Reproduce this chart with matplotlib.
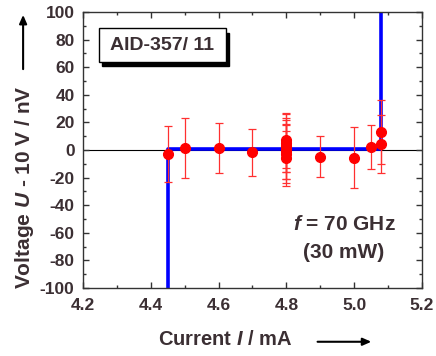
import matplotlib
matplotlib.use('Agg')
import matplotlib.pyplot as plt
from matplotlib.patches import Rectangle, FancyArrowPatch
from matplotlib.ticker import MultipleLocator

plt.rcParams['font.family'] = 'Liberation Sans'
plt.rcParams['font.weight'] = 'bold'
plt.rcParams['axes.unicode_minus'] = False
plt.rcParams['mathtext.fontset'] = 'custom'
plt.rcParams['mathtext.it'] = 'Liberation Sans:bold:italic'
plt.rcParams['mathtext.rm'] = 'Liberation Sans:bold'

txt_col = '#3b2f33'

# measured points
current = [4.45, 4.5, 4.6, 4.7, 4.8, 4.8, 4.8, 4.8, 4.8, 4.8, 4.8, 4.9, 5.0, 5.05, 5.08, 5.08]
voltage = [-3, 1.7, 1.7, -1.5, 7, 5, 3, 1, -1, -3, -6, -4.8, -5.6, 2.4, 4.1, 13]
err = [20.5, 21.7, 18, 17, 20, 21, 19, 22, 20, 21, 20, 14.7, 22, 16, 21, 23]

# fitted curve
fit_i = [4.45, 4.45, 5.08, 5.08]
fit_u = [-100, 0.5, 0.5, 100]

fig = plt.figure(figsize=(4.36, 3.56), dpi=100)
ax = fig.add_axes([0.190, 0.191, 0.778, 0.775])

ax.axhline(0, color='black', lw=0.8, zorder=1)
ax.plot(fit_i, fit_u, color='#0000ff', lw=2.6, zorder=2)
ax.errorbar(current, voltage, yerr=err, fmt='o', color='#ff0000', ms=7,
            ecolor='#ff3030', elinewidth=0.9, capsize=3, capthick=0.9, zorder=3)

ax.set_xlim(4.2, 5.2)
ax.set_ylim(-100, 100)
ax.xaxis.set_minor_locator(MultipleLocator(0.1))
ax.yaxis.set_major_locator(MultipleLocator(20))
ax.yaxis.set_minor_locator(MultipleLocator(10))
ax.set_xticks([4.2, 4.4, 4.6, 4.8, 5.0, 5.2])
ax.set_xticklabels(['4.2', '4.4', '4.6', '4.8', '5.0', '5.2'])
ax.tick_params(which='both', direction='in', top=True, right=True,
               colors='#333333', labelcolor=txt_col, labelsize=12.5)
ax.tick_params(which='major', length=4, width=1)
ax.tick_params(which='minor', length=2.5, width=1)
ax.tick_params(axis='x', pad=7)
ax.tick_params(axis='y', pad=6)
for s in ax.spines.values():
    s.set_color('#333333')
    s.set_linewidth(1)

# sample box with shadow
ax.add_patch(Rectangle((0.057, 0.803), 0.375, 0.123, transform=ax.transAxes,
                       facecolor='black', edgecolor='black', zorder=4))
ax.add_patch(Rectangle((0.047, 0.819), 0.375, 0.123, transform=ax.transAxes,
                       facecolor='white', edgecolor='black', lw=1, zorder=5))
ax.text(0.2345, 0.880, 'AID-357/ 11', transform=ax.transAxes, ha='center', va='center',
        fontsize=14, color=txt_col, zorder=6)

ax.text(4.97, -54, '$f$ = 70 GHz', ha='center', va='center', fontsize=15, color=txt_col)
ax.text(4.97, -74, '(30 mW)', ha='center', va='center', fontsize=15, color=txt_col)

fig.text(0.516, 0.045, 'Current $I$ / mA', ha='center', va='center', fontsize=14.5, color=txt_col)
fig.text(0.057, 0.473, 'Voltage $U$ - 10 V / nV', ha='center', va='center', rotation=90,
         fontsize=15, color=txt_col)

fig.add_artist(FancyArrowPatch((0.722, 0.040), (0.858, 0.040), transform=fig.transFigure,
                               arrowstyle='-|>,head_length=5,head_width=2.2', color='black', lw=1.5))
fig.add_artist(FancyArrowPatch((0.053, 0.798), (0.053, 0.966), transform=fig.transFigure,
                               arrowstyle='-|>,head_length=5,head_width=2.2', color='black', lw=1.5))

fig.savefig('out.png', dpi=100)
